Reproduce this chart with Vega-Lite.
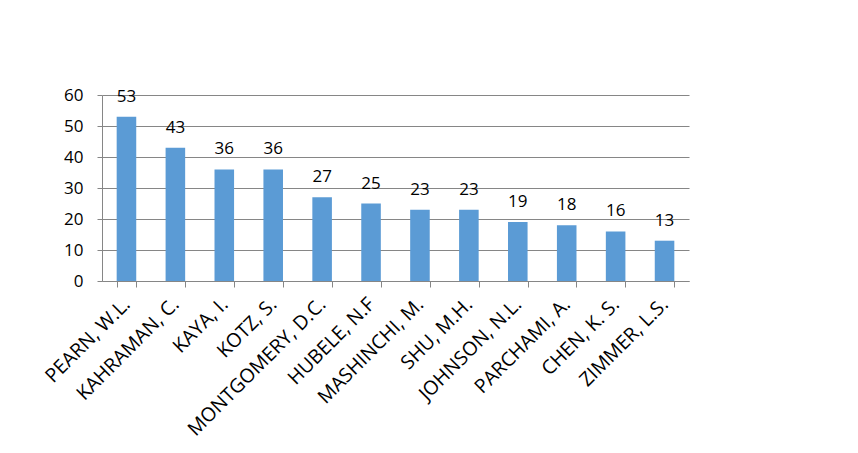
{
  "$schema": "https://vega.github.io/schema/vega-lite/v6.json",
  "autosize": "none",
  "width": 587,
  "height": 186,
  "padding": {"left": 102, "top": 95, "right": 169, "bottom": 172},
  "background": "white",
  "config": {"view": {"stroke": null}, "font": "Open Sans"},
  "data": {"values": [
    {"author": "PEARN, W.L.", "count": 53},
    {"author": "KAHRAMAN, C.", "count": 43},
    {"author": "KAYA, I.", "count": 36},
    {"author": "KOTZ, S.", "count": 36},
    {"author": "MONTGOMERY, D.C.", "count": 27},
    {"author": "HUBELE, N.F", "count": 25},
    {"author": "MASHINCHI, M.", "count": 23},
    {"author": "SHU, M.H.", "count": 23},
    {"author": "JOHNSON, N.L.", "count": 19},
    {"author": "PARCHAMI, A.", "count": 18},
    {"author": "CHEN, K. S.", "count": 16},
    {"author": "ZIMMER, L.S.", "count": 13}
  ]},
  "encoding": {
    "x": {
      "field": "author", "type": "nominal", "sort": null,
      "scale": {"paddingInner": 0.6, "paddingOuter": 0.3},
      "axis": {
        "title": null, "labelAngle": -45, "labelAlign": "right", "labelBaseline": "middle",
        "labelFontSize": 19.5, "labelColor": "#000000", "labelPadding": 14, "labelLimit": 400,
        "domainColor": "#868686", "tickColor": "#868686", "tickSize": 6, "tickBand": "extent",
        "grid": false
      }
    },
    "y": {
      "field": "count", "type": "quantitative",
      "scale": {"domain": [0, 60], "nice": false},
      "axis": {
        "title": null, "values": [0, 10, 20, 30, 40, 50, 60],
        "labelFontSize": 17, "labelColor": "#000000", "labelPadding": 14,
        "domainColor": "#868686", "tickColor": "#868686", "tickSize": 5,
        "gridColor": "#868686", "gridWidth": 1
      }
    }
  },
  "layer": [
    {"mark": {"type": "bar", "color": "#5B9BD5"}},
    {
      "mark": {"type": "text", "baseline": "alphabetic", "dy": -15, "fontSize": 17, "color": "#000000"},
      "encoding": {"text": {"field": "count", "type": "quantitative"}}
    }
  ]
}
